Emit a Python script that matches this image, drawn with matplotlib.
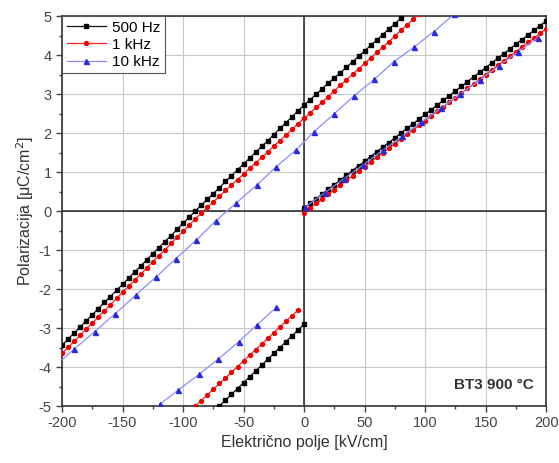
#!/usr/bin/env python3
"""P-E loop of BT3 sintered at 900 C, measured at three frequencies."""
import numpy as np
import matplotlib

matplotlib.use("Agg")
import matplotlib.pyplot as plt
from matplotlib.ticker import MultipleLocator

plt.rcParams["font.family"] = ["Liberation Sans", "DejaVu Sans"]
plt.rcParams["axes.unicode_minus"] = False

# field steps of the 500 Hz and 1 kHz measurements are 5 kV/cm
# ---- 500 Hz ----
e_500_up = np.arange(-200, 81, 5)
p_500_up = [-3.44, -3.28, -3.13, -2.97, -2.81, -2.66, -2.50, -2.34, -2.19, -2.03,
            -1.88, -1.72, -1.56, -1.41, -1.25, -1.09, -0.94, -0.78, -0.63, -0.47,
            -0.31, -0.16, 0.00, 0.15, 0.30, 0.45, 0.60, 0.76, 0.91, 1.06,
            1.21, 1.36, 1.51, 1.66, 1.81, 1.96, 2.12, 2.27, 2.42, 2.57,
            2.72, 2.86, 3.00, 3.14, 3.28, 3.42, 3.55, 3.69, 3.83, 3.97,
            4.11, 4.25, 4.39, 4.53, 4.67, 4.81, 4.95]
e_500_pos = np.arange(0, 201, 5)
p_500_pos = [0.08, 0.20, 0.32, 0.44, 0.56, 0.68, 0.80, 0.92, 1.04, 1.16,
             1.28, 1.40, 1.52, 1.64, 1.76, 1.88, 2.00, 2.12, 2.24, 2.36,
             2.48, 2.60, 2.72, 2.84, 2.96, 3.08, 3.20, 3.32, 3.44, 3.56,
             3.68, 3.80, 3.92, 4.04, 4.16, 4.28, 4.40, 4.52, 4.64, 4.76, 4.88]
e_500_neg = np.arange(-70, 1, 5)
p_500_neg = [-5.00, -4.85, -4.70, -4.55, -4.40, -4.25, -4.10, -3.95, -3.80, -3.65,
             -3.50, -3.35, -3.20, -3.05, -2.90]

# ---- 1 kHz ----
e_1k_up = np.arange(-200, 96, 5)
p_1k_up = [-3.65, -3.49, -3.34, -3.18, -3.02, -2.87, -2.71, -2.55, -2.40, -2.24,
           -2.08, -1.93, -1.77, -1.61, -1.46, -1.30, -1.14, -0.99, -0.83, -0.67,
           -0.52, -0.36, -0.20, -0.05, 0.10, 0.24, 0.38, 0.53, 0.67, 0.81,
           0.95, 1.10, 1.24, 1.38, 1.52, 1.67, 1.81, 1.95, 2.10, 2.24,
           2.38, 2.52, 2.66, 2.80, 2.94, 3.09, 3.23, 3.37, 3.51, 3.65,
           3.79, 3.93, 4.07, 4.21, 4.35, 4.49, 4.64, 4.78, 4.92, 5.06]
e_1k_pos = np.arange(0, 201, 5)
p_1k_pos = [-0.04, 0.08, 0.20, 0.31, 0.43, 0.55, 0.67, 0.79, 0.90, 1.02,
            1.14, 1.26, 1.38, 1.49, 1.61, 1.73, 1.85, 1.97, 2.08, 2.20,
            2.32, 2.44, 2.56, 2.67, 2.79, 2.91, 3.03, 3.15, 3.26, 3.38,
            3.50, 3.62, 3.74, 3.85, 3.97, 4.09, 4.21, 4.33, 4.44, 4.56, 4.68]
e_1k_neg = np.arange(-90, -4, 5)
p_1k_neg = [-5.00, -4.86, -4.71, -4.57, -4.42, -4.28, -4.13, -3.99, -3.84, -3.70,
            -3.55, -3.41, -3.26, -3.12, -2.97, -2.83, -2.68, -2.54]

# ---- 10 kHz ----
e_10k_up = [-206, -190, -173, -156, -139, -122, -106, -89, -73, -56, -39, -23, -7,
            8, 25, 41, 58, 74, 91, 107, 124]
p_10k_up = [-3.98, -3.54, -3.09, -2.63, -2.15, -1.68, -1.22, -0.74, -0.25, 0.21,
            0.67, 1.14, 1.56, 2.03, 2.50, 2.95, 3.38, 3.83, 4.21, 4.60, 5.05]
e_10k_pos = [1, 17, 33, 49, 65, 81, 97, 113, 129, 145, 161, 177, 193]
p_10k_pos = [0.11, 0.47, 0.83, 1.19, 1.56, 1.92, 2.28, 2.64, 3.00, 3.36, 3.73,
             4.09, 4.45]
e_10k_neg = [-135, -119, -104, -87, -71, -54, -39, -23]
p_10k_neg = [-5.40, -4.95, -4.59, -4.19, -3.80, -3.35, -2.92, -2.47]

series = [
    ("500 Hz", "#101010", "black", "s", 2.4,
     [(e_500_up, p_500_up), (e_500_pos, p_500_pos), (e_500_neg, p_500_neg)]),
    ("1 kHz", "#ff2020", "#ee0000", "o", 2.8,
     [(e_1k_up, p_1k_up), (e_1k_pos, p_1k_pos), (e_1k_neg, p_1k_neg)]),
    ("10 kHz", "#8c8cff", "#2a2ad8", "^", 3.6,
     [(e_10k_up, p_10k_up), (e_10k_pos, p_10k_pos), (e_10k_neg, p_10k_neg)]),
]

fig = plt.figure(figsize=(5.59, 4.63), dpi=100)
ax = fig.add_axes([0.111, 0.123, 0.866, 0.842])

ax.grid(True, color="#c8c8c8", linewidth=0.8, zorder=1)
ax.axhline(0, color="#222222", linewidth=1.1, zorder=2.5)
ax.axvline(0, color="#222222", linewidth=1.1, zorder=2.5)

for label, lcol, mcol, mk, ms, segs in series:
    for i, (e, p) in enumerate(segs):
        ax.plot(e, p, color=lcol, linewidth=0.9, marker=mk, markersize=ms,
                markerfacecolor=mcol, markeredgecolor=mcol,
                label=label if i == 0 else None, zorder=3)

ax.set_xlim(-200, 200)
ax.set_ylim(-5, 5)
ax.xaxis.set_major_locator(MultipleLocator(50))
ax.xaxis.set_minor_locator(MultipleLocator(25))
ax.yaxis.set_major_locator(MultipleLocator(1))
ax.yaxis.set_minor_locator(MultipleLocator(0.5))
ax.tick_params(which="major", direction="out", length=4, width=1, labelsize=10.5,
               colors="#444444")
ax.tick_params(which="minor", direction="out", length=2, width=1, colors="#444444")
for s in ax.spines.values():
    s.set_color("#333333")
    s.set_linewidth(1.2)

ax.set_xlabel("Električno polje [kV/cm]", fontsize=11.5, color="#333333", labelpad=3)
ax.set_ylabel("Polarizacija [μC/cm$^2$]", fontsize=11.5, color="#333333", labelpad=2)

leg = ax.legend(loc="upper left", fontsize=11, borderaxespad=0, fancybox=False,
                handlelength=2.6, handletextpad=0.4, borderpad=0.3, labelspacing=0.2,
                framealpha=1)
leg.get_frame().set_edgecolor("#555555")
leg.get_frame().set_linewidth(0.8)

ax.text(0.975, 0.035, "BT3 900 °C", transform=ax.transAxes, ha="right", va="bottom",
        fontsize=11, fontweight="bold", color="#333333")

fig.savefig("out.png")
